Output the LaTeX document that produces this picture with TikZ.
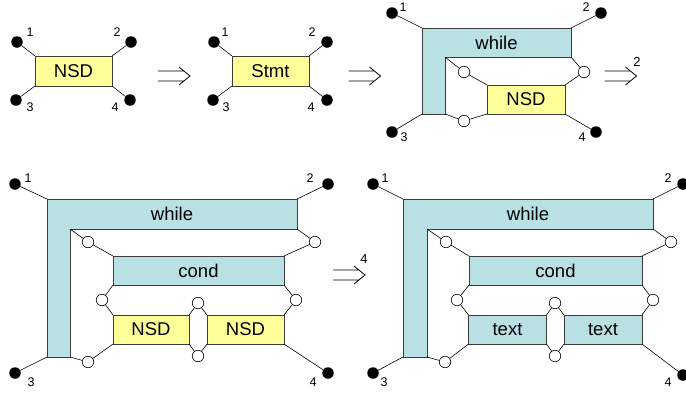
\documentclass[tikz,border=0pt]{standalone}
\usepackage{fontspec}
\setmainfont{Liberation Sans}
\definecolor{nsdyellow}{RGB}{255,255,153}
\definecolor{blkblue}{RGB}{185,224,226}
\definecolor{boxline}{RGB}{60,60,60}
\tikzset{
  derive/.pic={
    \draw[line width=0.8pt, line join=miter]
      (-16,-5) -- (10,-5) (-16,5) -- (10,5) (5,-9) -- (16,0) -- (5,9);
  }
}
\begin{document}
\begin{tikzpicture}[x=1pt, y=-1pt,
  every node/.style={inner sep=0pt, outer sep=0pt},
  boxtxt/.style={font=\fontsize{18.5}{18.5}\selectfont},
  nsd/.style={boxtxt, draw=boxline, line width=0.8pt, fill=nsdyellow},
  blk/.style={draw=boxline, line width=0.8pt, fill=blkblue},
  blkbox/.style={boxtxt, blk},
  term/.style={circle, fill=black, minimum size=11.5pt},
  joint/.style={circle, draw=black, fill=white, line width=0.6pt, minimum size=11.5pt},
  wire/.style={line width=0.6pt, black},
  num/.style={font=\fontsize{12.5}{12.5}\selectfont},
  stepnum/.style={font=\fontsize{13}{13}\selectfont},
]
\useasboundingbox (0,0) rectangle (686,392);

% ---------- NSD ----------
\node[nsd, minimum width=77pt, minimum height=30pt] (n1) at (73.5,71) {NSD};
\node[term] (t1a) at (17,42) {};
\node[term] (t1b) at (131,42) {};
\node[term] (t1c) at (16,100) {};
\node[term] (t1d) at (130,100) {};
\draw[wire] (n1.north west) -- (t1a);
\draw[wire] (n1.north east) -- (t1b);
\draw[wire] (n1.south west) -- (t1c);
\draw[wire] (n1.south east) -- (t1d);
\node[num] (l1a) at (30,32) {1};
\node[num] (l1b) at (117,32) {2};
\node[num] (l1c) at (30,107) {3};
\node[num] (l1d) at (115,107) {4};

\pic at (174,76) {derive};

% ---------- Stmt ----------
\node[nsd, minimum width=77pt, minimum height=30pt] (n2) at (270.5,71) {Stmt};
\node[term] (t2a) at (214,42) {};
\node[term] (t2b) at (327,42) {};
\node[term] (t2c) at (213,100) {};
\node[term] (t2d) at (327,100) {};
\draw[wire] (n2.north west) -- (t2a);
\draw[wire] (n2.north east) -- (t2b);
\draw[wire] (n2.south west) -- (t2c);
\draw[wire] (n2.south east) -- (t2d);
\node[num] (l2a) at (225,32) {1};
\node[num] (l2b) at (312,32) {2};
\node[num] (l2c) at (226,107) {3};
\node[num] (l2d) at (311,107) {4};

\pic at (364.5,76) {derive};

% ---------- while NSD ----------
\coordinate (p3a) at (422,28);
\coordinate (p3b) at (571,28);
\coordinate (p3c) at (571,57);
\coordinate (p3d) at (445,57);
\coordinate (p3e) at (445,114);
\coordinate (p3f) at (422,114);
\draw[blk] (p3a) -- (p3b) -- (p3c) -- (p3d) -- (p3e) -- (p3f) -- cycle;
\node[boxtxt] (w3) at (496.5,42.5) {while};
\node[nsd, minimum width=78pt, minimum height=29pt] (n3) at (526,99.5) {NSD};
\node[joint] (h3a) at (464,72) {};
\node[joint] (h3b) at (584,72) {};
\node[joint] (h3c) at (464,121) {};
\draw[wire] (p3d) -- (h3a) -- (n3.north west);
\draw[wire] (p3c) -- (h3b) -- (n3.north east);
\draw[wire] (p3e) -- (h3c) -- (n3.south west);
\node[term] (t3a) at (392,13) {};
\node[term] (t3b) at (601,13) {};
\node[term] (t3c) at (392,132) {};
\node[term] (t3d) at (596,132) {};
\draw[wire] (p3a) -- (t3a);
\draw[wire] (p3b) -- (t3b);
\draw[wire] (p3f) -- (t3c);
\draw[wire] (n3.south east) -- (t3d);
\node[num] (l3a) at (403,7) {1};
\node[num] (l3b) at (586,7) {2};
\node[num] (l3c) at (404,137) {3};
\node[num] (l3d) at (582,137) {4};

\pic at (620.5,76) {derive};
\node[stepnum] (s3) at (637,62) {2};

% ---------- while / cond / NSD NSD ----------
\coordinate (p4a) at (47,199);
\coordinate (p4b) at (297,199);
\coordinate (p4c) at (297,229);
\coordinate (p4d) at (70,229);
\coordinate (p4e) at (70,357);
\coordinate (p4f) at (47,357);
\draw[blk] (p4a) -- (p4b) -- (p4c) -- (p4d) -- (p4e) -- (p4f) -- cycle;
\node[boxtxt] (w4) at (172,214) {while};
\node[blkbox, minimum width=171pt, minimum height=29pt] (c4) at (198.5,270.5) {cond};
\node[nsd, minimum width=76pt, minimum height=29pt] (n4a) at (151,329.5) {NSD};
\node[nsd, minimum width=77pt, minimum height=29pt] (n4b) at (245.5,329.5) {NSD};
\node[joint] (h4a) at (88,242) {};
\node[joint] (h4b) at (315,242) {};
\node[joint] (h4c) at (102,300) {};
\node[joint] (h4d) at (296,300) {};
\node[joint] (h4e) at (198,303) {};
\node[joint] (h4f) at (198,356) {};
\node[joint] (h4g) at (88,362) {};
\draw[wire] (p4d) -- (h4a) -- (c4.north west);
\draw[wire] (p4c) -- (h4b) -- (c4.north east);
\draw[wire] (c4.south west) -- (h4c) -- (n4a.north west);
\draw[wire] (c4.south east) -- (h4d) -- (n4b.north east);
\draw[wire] (n4a.north east) -- (h4e) -- (n4b.north west);
\draw[wire] (n4a.south east) -- (h4f) -- (n4b.south west);
\draw[wire] (p4e) -- (h4g) -- (n4a.south west);
\node[term] (t4a) at (15,184) {};
\node[term] (t4b) at (328,184) {};
\node[term] (t4c) at (15,373) {};
\node[term] (t4d) at (328,373) {};
\draw[wire] (p4a) -- (t4a);
\draw[wire] (p4b) -- (t4b);
\draw[wire] (p4f) -- (t4c);
\draw[wire] (n4b.south east) -- (t4d);
\node[num] (l4a) at (28,178) {1};
\node[num] (l4b) at (310,178) {2};
\node[num] (l4c) at (31,382) {3};
\node[num] (l4d) at (313,382) {4};

\pic at (349,275) {derive};
\node[stepnum] (s4) at (364,259) {4};

% ---------- while / cond / text text ----------
\coordinate (p5a) at (403,199);
\coordinate (p5b) at (653,199);
\coordinate (p5c) at (653,229);
\coordinate (p5d) at (427,229);
\coordinate (p5e) at (427,357);
\coordinate (p5f) at (403,357);
\draw[blk] (p5a) -- (p5b) -- (p5c) -- (p5d) -- (p5e) -- (p5f) -- cycle;
\node[boxtxt] (w5) at (528,214) {while};
\node[blkbox, minimum width=173pt, minimum height=29pt] (c5) at (555.5,270.5) {cond};
\node[blkbox, minimum width=78pt, minimum height=29pt] (x5a) at (507.5,329.5) {text};
\node[blkbox, minimum width=78pt, minimum height=29pt] (x5b) at (603,329.5) {text};
\node[joint] (h5a) at (446,242) {};
\node[joint] (h5b) at (671,242) {};
\node[joint] (h5c) at (457,300) {};
\node[joint] (h5d) at (653,300) {};
\node[joint] (h5e) at (555,303) {};
\node[joint] (h5f) at (555,356) {};
\node[joint] (h5g) at (445,362) {};
\draw[wire] (p5d) -- (h5a) -- (c5.north west);
\draw[wire] (p5c) -- (h5b) -- (c5.north east);
\draw[wire] (c5.south west) -- (h5c) -- (x5a.north west);
\draw[wire] (c5.south east) -- (h5d) -- (x5b.north east);
\draw[wire] (x5a.north east) -- (h5e) -- (x5b.north west);
\draw[wire] (x5a.south east) -- (h5f) -- (x5b.south west);
\draw[wire] (p5e) -- (h5g) -- (x5a.south west);
\node[term] (t5a) at (373,184) {};
\node[term] (t5b) at (683,184) {};
\node[term] (t5c) at (373,373) {};
\node[term] (t5d) at (683,375) {};
\draw[wire] (p5a) -- (t5a);
\draw[wire] (p5b) -- (t5b);
\draw[wire] (p5f) -- (t5c);
\draw[wire] (x5b.south east) -- (t5d);
\node[num] (l5a) at (385,178) {1};
\node[num] (l5b) at (668,178) {2};
\node[num] (l5c) at (384,382) {3};
\node[num] (l5d) at (668,382) {4};
\end{tikzpicture}
\end{document}
